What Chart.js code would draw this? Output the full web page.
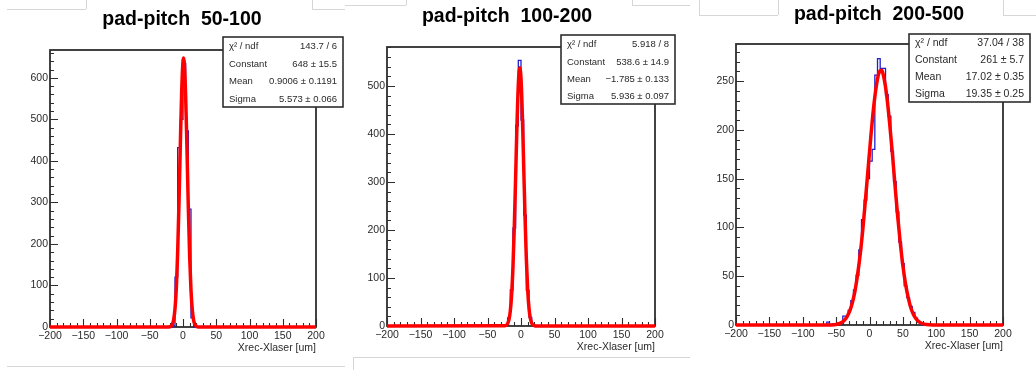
<!DOCTYPE html>
<html>
<head>
<meta charset="utf-8">
<script src="https://cdn.jsdelivr.net/npm/chart.js@4.4.1/dist/chart.umd.min.js"></script>
<style>
  html, body { margin: 0; padding: 0; background: #fff; }
  #page { position: relative; width: 1036px; height: 370px; overflow: hidden; background: #fff; }
  .panel { position: absolute; top: 0; height: 370px; }
  .edge { position: absolute; background: #d6d6d6; }
</style>
</head>
<body>
<div id="page">
  <div class="edge" style="left:7px;top:9px;width:79px;height:1px"></div>
  <div class="edge" style="left:86px;top:0;width:1px;height:9px"></div>
  <div class="edge" style="left:312px;top:0;width:1px;height:9px"></div>
  <div class="edge" style="left:312px;top:9px;width:33px;height:1px"></div>
  <div class="edge" style="left:345px;top:5px;width:61px;height:1px"></div>
  <div class="edge" style="left:406px;top:0;width:1px;height:5px"></div>
  <div class="edge" style="left:632px;top:0;width:1px;height:5px"></div>
  <div class="edge" style="left:632px;top:5px;width:58px;height:1px"></div>
  <div class="edge" style="left:699px;top:0;width:1px;height:15px"></div>
  <div class="edge" style="left:699px;top:15px;width:79px;height:1px"></div>
  <div class="edge" style="left:778px;top:0;width:1px;height:15px"></div>
  <div class="edge" style="left:1003px;top:0;width:1px;height:15px"></div>
  <div class="edge" style="left:1003px;top:15px;width:33px;height:1px"></div>
  <div class="edge" style="left:7px;top:366px;width:338px;height:1px"></div>
  <div class="edge" style="left:353px;top:357px;width:337px;height:1px"></div>
  <div class="edge" style="left:353px;top:357px;width:1px;height:13px"></div>

  <div class="panel" style="left:0;width:345px"><canvas id="pitch50" width="345" height="370"></canvas></div>
  <div class="panel" style="left:345px;width:345px"><canvas id="pitch100" width="345" height="370"></canvas></div>
  <div class="panel" style="left:690px;width:346px"><canvas id="pitch200" width="346" height="370"></canvas></div>
</div>

<script>
// histogram: 100 bins of 4 um between -200 and 200, only the filled part is listed
const binWidth = 4;
const statLabels = ['χ² / ndf', 'Constant', 'Mean', 'Sigma'];

// pad-pitch 50-100
const hist50Start = -16;
const hist50Counts = [3, 120, 432, 500, 635, 472, 284, 22];
const fit50X = [-200, -22, -20, -18, -16, -14, -12, -10, -8, -6, -4, -2, 0, 1, 2, 4, 6, 8, 10, 12, 14, 16, 18, 20, 24, 200];
const fit50Y = [0, 0.1, 0.6, 2, 6.5, 18, 44, 95, 181, 301, 440, 566, 640, 648, 635, 555, 426, 288, 170, 89, 41, 16, 6, 1.8, 0.1, 0];
const stats50 = ['143.7 / 6', '648 ± 15.5', '0.9006 ± 0.1191', '5.573 ± 0.066'];

// pad-pitch 100-200
const hist100Start = -24;
const hist100Counts = [3, 17, 75, 204, 417, 553, 429, 231, 74, 18, 3];
const fit100X = [-200, -24, -22, -20, -18, -16, -14, -12, -10, -8, -6, -4, -2, 0, 2, 4, 6, 8, 10, 12, 14, 16, 18, 20, 24, 200];
const fit100Y = [0, 0.3, 1.6, 4.9, 13, 31, 65, 123, 207, 311, 419, 502, 538, 515, 440, 335, 228, 139, 75, 36, 15.6, 6, 2, 0.6, 0.05, 0];
const stats100 = ['5.918 / 8', '538.6 ± 14.9', '\u22121.785 ± 0.133', '5.936 ± 0.097'];

// pad-pitch 200-500
const hist200Start = -64;
const hist200Counts = [3, 0, 1, 0, 2, 2, 9, 9, 15, 25, 36, 51, 77, 108, 128, 150, 168, 180, 256, 273, 263, 263,
                       236, 214, 178, 147, 116, 85, 63, 40, 28, 19, 13, 7, 3, 1];
const fit200X = [-200, -66, -58, -50, -46, -42, -38, -34, -30, -26, -22, -18, -14, -10, -6, -2, 2, 6, 10, 14, 18,
                 22, 26, 30, 34, 38, 42, 46, 50, 54, 58, 62, 66, 70, 74, 78, 82, 90, 100, 200];
const fit200Y = [0, 0, 0.1, 0.6, 1.3, 2.5, 4.6, 8.1, 13.6, 22, 34, 51, 72, 98, 129, 161, 193, 222, 244, 258, 261,
                 252, 234, 208, 178, 145, 113, 85, 61, 42, 28, 17.5, 10.6, 6.1, 3.4, 1.8, 0.9, 0.2, 0, 0];
const stats200 = ['37.04 / 38', '261 ± 5.7', '17.02 ± 0.35', '19.35 ± 0.25'];

const FONT = '"Liberation Sans", Arial, Helvetica, sans-serif';
const INK = '#2a2a2a';
const X_AXIS_H = 27;

function histPoints(start, counts) {
    const pts = [{ x: -200, y: 0 }];
    counts.forEach((c, i) => pts.push({ x: start + i * binWidth, y: c }));
    pts.push({ x: start + counts.length * binWidth, y: 0 });
    pts.push({ x: 200, y: 0 });
    return pts;
}

function curvePoints(xs, ys) {
    return xs.map((x, i) => ({ x: x, y: ys[i] }));
}

function minus(v) {
    return String(v).replace('-', '\u2212');
}

// ROOT look: frame, inward ticks, title and the fit box
const rootFrame = {
    id: 'rootFrame',
    beforeDatasetsDraw(chart) {
        const { ctx, chartArea: a, scales: { x, y } } = chart;
        ctx.save();
        ctx.strokeStyle = '#2e2e2e';
        ctx.lineWidth = 1.8;
        ctx.strokeRect(a.left, a.top, a.right - a.left, a.bottom - a.top);
        ctx.lineWidth = 1.1;
        ctx.beginPath();
        const xStep = x.ticks[1].value - x.ticks[0].value;
        for (let v = x.min; v <= x.max + 1e-6; v += xStep / 5) {
            const major = Math.abs(v / xStep - Math.round(v / xStep)) < 1e-6;
            const px = Math.round(x.getPixelForValue(v)) + 0.5;
            ctx.moveTo(px, a.bottom);
            ctx.lineTo(px, a.bottom - (major ? 8 : 4));
        }
        const yStep = y.ticks[1].value - y.ticks[0].value;
        for (let v = 0; v <= y.max + 1e-6; v += yStep / 5) {
            const major = Math.abs(v / yStep - Math.round(v / yStep)) < 1e-6;
            const py = Math.round(y.getPixelForValue(v)) + 0.5;
            ctx.moveTo(a.left, py);
            ctx.lineTo(a.left + (major ? 8 : 4), py);
        }
        ctx.stroke();
        ctx.restore();
    },
    afterDatasetsDraw(chart, args, opts) {
        const { ctx } = chart;
        ctx.save();
        ctx.fillStyle = '#000';
        ctx.font = 'bold 19.5px ' + FONT;
        ctx.textAlign = 'center';
        ctx.textBaseline = 'middle';
        ctx.fillText(opts.title, opts.titleX, opts.titleY);

        const b = opts.box;
        ctx.fillStyle = '#fff';
        ctx.fillRect(b.left, b.top, b.right - b.left, b.bottom - b.top);
        ctx.strokeStyle = '#2e2e2e';
        ctx.lineWidth = 1.6;
        ctx.strokeRect(b.left, b.top, b.right - b.left, b.bottom - b.top);
        ctx.fillStyle = INK;
        ctx.font = opts.statSize + 'px ' + FONT;
        const rowH = (b.bottom - b.top) / statLabels.length;
        statLabels.forEach((label, i) => {
            const ty = b.top + rowH * (i + 0.5) + 1;
            ctx.textAlign = 'left';
            ctx.fillText(label, b.left + 6, ty);
            ctx.textAlign = 'right';
            ctx.fillText(opts.values[i], b.right - 6, ty);
        });
        ctx.restore();
    }
};

function drawPanel(id, cfg) {
    const canvas = document.getElementById(id);
    const a = cfg.area;
    new Chart(canvas, {
        type: 'line',
        data: {
            datasets: [
                {
                    label: 'fit',
                    data: curvePoints(cfg.fitX, cfg.fitY),
                    borderColor: '#ff0000',
                    borderWidth: 3.5,
                    pointRadius: 0,
                    cubicInterpolationMode: 'monotone',
                    fill: false,
                    clip: false,
                },
                {
                    label: 'hist',
                    data: histPoints(cfg.start, cfg.counts),
                    borderColor: '#1f1fd0',
                    borderWidth: 1.3,
                    pointRadius: 0,
                    stepped: 'before',
                    fill: false,
                    clip: false,
                },
            ],
        },
        options: {
            responsive: false,
            animation: false,
            events: [],
            layout: {
                padding: {
                    left: 0,
                    right: canvas.width - a.right,
                    top: a.top,
                    bottom: 370 - a.bottom - X_AXIS_H,
                },
            },
            scales: {
                x: {
                    type: 'linear',
                    min: -200,
                    max: 200,
                    grid: { display: false, drawTicks: false },
                    border: { display: false },
                    ticks: {
                        stepSize: 50,
                        autoSkip: false,
                        maxRotation: 0,
                        padding: 3,
                        color: INK,
                        font: { family: FONT, size: 10.5 },
                        callback: v => minus(v),
                    },
                    title: {
                        display: true,
                        text: 'Xrec-Xlaser [um]',
                        align: 'end',
                        color: INK,
                        padding: 0,
                        font: { family: FONT, size: 10.5 },
                    },
                    afterFit: s => { s.height = X_AXIS_H; },
                },
                y: {
                    type: 'linear',
                    min: 0,
                    max: cfg.yMax,
                    grid: { display: false, drawTicks: false },
                    border: { display: false },
                    ticks: {
                        stepSize: cfg.yStep,
                        includeBounds: false,
                        padding: 2,
                        color: INK,
                        font: { family: FONT, size: 10.5 },
                    },
                    afterFit: s => { s.width = a.left; },
                },
            },
            plugins: {
                legend: { display: false },
                tooltip: { enabled: false },
                rootFrame: {
                    title: cfg.title,
                    titleX: cfg.titleX,
                    titleY: cfg.titleY,
                    box: cfg.box,
                    statSize: cfg.statSize,
                    values: cfg.stats,
                },
            },
        },
        plugins: [rootFrame],
    });
}

drawPanel('pitch50', {
    title: 'pad-pitch  50-100', titleX: 182, titleY: 20,
    start: hist50Start, counts: hist50Counts, fitX: fit50X, fitY: fit50Y, stats: stats50,
    yMax: 667, yStep: 100,
    area: { left: 50, right: 316, top: 50, bottom: 327 },
    box: { left: 223, top: 37, right: 343, bottom: 107 }, statSize: 9.5,
});

drawPanel('pitch100', {
    title: 'pad-pitch  100-200', titleX: 162, titleY: 17,
    start: hist100Start, counts: hist100Counts, fitX: fit100X, fitY: fit100Y, stats: stats100,
    yMax: 581, yStep: 100,
    area: { left: 42, right: 310, top: 47, bottom: 326 },
    box: { left: 216, top: 35, right: 330, bottom: 104 }, statSize: 9.5,
});

drawPanel('pitch200', {
    title: 'pad-pitch  200-500', titleX: 189, titleY: 15,
    start: hist200Start, counts: hist200Counts, fitX: fit200X, fitY: fit200Y, stats: stats200,
    yMax: 288, yStep: 50,
    area: { left: 46, right: 313, top: 44, bottom: 325 },
    box: { left: 219, top: 34, right: 340, bottom: 102 }, statSize: 10.5,
});
</script>
</body>
</html>
